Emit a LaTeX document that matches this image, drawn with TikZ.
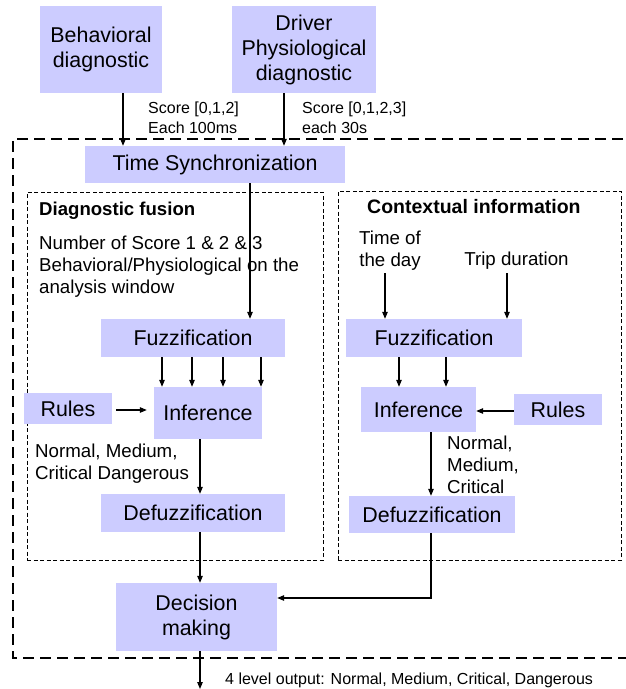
\documentclass[tikz,border=0pt]{standalone}
\usepackage{fontspec}
\setmainfont{Liberation Sans}
\usetikzlibrary{arrows.meta}
\definecolor{boxc}{HTML}{CCCCFF}
\begin{document}
\begin{tikzpicture}[x=1pt,y=-1pt,
  box/.style={fill=boxc, inner sep=0pt, align=center, font=\fontsize{21.4}{25}\selectfont},
  arr/.style={line width=1.1pt, -{Triangle[length=7pt,width=5.5pt]}},
  plain/.style={line width=1.1pt},
  lbl/.style={inner sep=0pt, align=left, anchor=west, font=\fontsize{16}{20}\selectfont},
  mtxt/.style={inner sep=0pt, align=left, anchor=west, font=\fontsize{18.7}{22}\selectfont},
  head/.style={inner sep=0pt, anchor=west, font=\bfseries\fontsize{18.6}{22}\selectfont},
  outerbox/.style={line width=2.2pt, dash pattern=on 11pt off 6pt},
  innerbox/.style={line width=0.8pt, dash pattern=on 4pt off 2.5pt}]
\useasboundingbox (0,0) rectangle (625,689);

% dashed frames
\draw[outerbox] (640,139) -- (13,139) -- (13,658) -- (640,658);
\node[draw, innerbox, inner sep=0pt, minimum width=296pt, minimum height=368pt] (fus) at (175,376) {};
\node[draw, innerbox, inner sep=0pt, minimum width=283pt, minimum height=369pt] (ctx) at (479.5,375.5) {};

% boxes
\node[box, minimum width=122pt, minimum height=87pt] (beh) at (101,49.5) {Behavioral\\diagnostic};
\node[box, minimum width=144pt, minimum height=87pt] (drv) at (304,49.5) {Driver\\Physiological\\diagnostic};
\node[box, minimum width=260pt, minimum height=37pt] (ts) at (215,164.5) {Time Synchronization};
\node[box, minimum width=184pt, minimum height=38pt] (fuzzL) at (193,338) {Fuzzification};
\node[box, minimum width=108pt, minimum height=52pt] (infL) at (208,413) {Inference};
\node[box, minimum width=88pt, minimum height=31pt] (rulesL) at (68,408.5) {Rules};
\node[box, minimum width=184pt, minimum height=38pt] (defL) at (193,513) {Defuzzification};
\node[box, minimum width=161pt, minimum height=68pt] (dec) at (196.5,617) {Decision\\making};
\node[box, minimum width=176pt, minimum height=38pt] (fuzzR) at (434,338) {Fuzzification};
\node[box, minimum width=115pt, minimum height=45pt] (infR) at (418.5,409.5) {Inference};
\node[box, minimum width=88pt, minimum height=31pt] (rulesR) at (558,409.5) {Rules};
\node[box, minimum width=166pt, minimum height=37pt] (defR) at (432,514.5) {Defuzzification};

% texts
\node[lbl] (s1) at (148,118) {Score [0,1,2]\\Each 100ms};
\node[lbl] (s2) at (302,118) {Score [0,1,2,3]\\each 30s};
\node[head] (hf) at (39,211) {Diagnostic fusion};
\node[mtxt] (nos) at (39,267) {Number of Score 1 \& 2 \& 3\\Behavioral/Physiological on the\\analysis window};
\node[inner sep=0pt, anchor=west, font=\bfseries\fontsize{19.5}{22}\selectfont] (hc) at (367,207) {Contextual information};
\node[mtxt, align=center, anchor=center] (tod) at (390,251) {Time of\\the day};
\node[mtxt, anchor=center] (trip) at (516.5,261) {Trip duration};
\node[mtxt] (nmc) at (35,464) {Normal, Medium,\\Critical Dangerous};
\node[mtxt] (nmc2) at (447,465) {Normal,\\Medium,\\Critical};
\node[lbl] (outl) at (225,680) {4 level output: Normal, Medium, Critical, Dangerous};

% connectors
\draw[arr] (123,0 |- beh.south) -- (123,0 |- ts.north);
\draw[arr] (284,0 |- drv.south) -- (284,0 |- ts.north);
\draw[arr] (250,0 |- ts.south) -- (250,0 |- fuzzL.north);
\foreach \xx in {162,192,223,261}
  \draw[arr] (\xx,0 |- fuzzL.south) -- (\xx,0 |- infL.north);
\draw[arr] ([xshift=4pt]rulesL.east |- 0,410) -- ([xshift=-7pt]infL.west |- 0,410);
\draw[arr] (200,0 |- infL.south) -- (200,0 |- defL.north);
\draw[arr] (200,0 |- defL.south) -- (200,0 |- dec.north);
\coordinate (outend) at (200,689);
\draw[arr] (200,0 |- dec.south) -- (outend);
\draw[arr] (385,273) -- (385,0 |- fuzzR.north);
\draw[arr] (507,273) -- (507,0 |- fuzzR.north);
\draw[arr] (399,0 |- fuzzR.south) -- (399,0 |- infR.north);
\draw[arr] (446,0 |- fuzzR.south) -- (446,0 |- infR.north);
\draw[arr] (rulesR.west |- 0,411) -- (infR.east |- 0,411);
\draw[arr] (431,0 |- infR.south) -- (431,0 |- defR.north);
\draw[arr] (431,0 |- defR.south) -- (431,598) -- (dec.east |- 0,598);
\end{tikzpicture}
\end{document}
